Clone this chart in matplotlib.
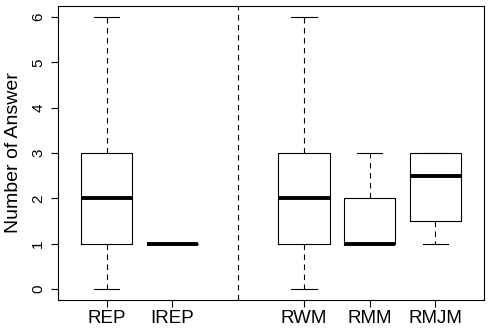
import matplotlib
matplotlib.use("Agg")
import matplotlib.pyplot as plt

plt.rcParams['font.family'] = ['Liberation Sans', 'DejaVu Sans']

# groups and their five-number summaries
labels = ["REP", "IREP", "RWM", "RMM", "RMJM"]
positions = [1, 2, 4, 5, 6]
whislo = [0, 1, 0, 1, 1]
q1 = [1, 1, 1, 1, 1.5]
med = [2, 1, 2, 1, 2.5]
q3 = [3, 1, 3, 2, 3]
whishi = [6, 1, 6, 3, 3]
separator = 3

stats = []
for i in range(len(labels)):
    stats.append(dict(label=labels[i], whislo=whislo[i], q1=q1[i], med=med[i],
                      q3=q3[i], whishi=whishi[i], fliers=[]))

fig = plt.figure(figsize=(4.9, 3.34), dpi=100)
ax = fig.add_axes([0.118, 0.102, 0.870, 0.880])

ax.bxp(stats, positions=positions, widths=0.78, showfliers=False,
       boxprops=dict(color="black", linewidth=0.8),
       whiskerprops=dict(color="black", linewidth=0.8, linestyle=(0, (5, 4))),
       capprops=dict(color="black", linewidth=0.8),
       medianprops=dict(color="black", linewidth=2.8, solid_capstyle="butt"),
       capwidths=0.39)

ax.axvline(separator, color="black", linewidth=0.8, linestyle=(0, (5, 4)))

ax.set_xlim(0.26, 6.74)
ax.set_ylim(-0.24, 6.24)
ax.set_xticks(positions)
ax.set_xticklabels(labels, fontsize=13.5)
ax.set_yticks(range(0, 7))
ax.set_yticklabels([str(v) for v in range(0, 7)], rotation=90, va="center", fontsize=11)
ax.tick_params(direction="out", length=5, width=0.8, color="black")
ax.tick_params(axis="y", pad=4)
ax.tick_params(axis="x", pad=2)
ax.set_ylabel("Number of Answer", fontsize=14, labelpad=7)
for s in ax.spines.values():
    s.set_linewidth(0.8)

fig.savefig("out.png", dpi=100)
